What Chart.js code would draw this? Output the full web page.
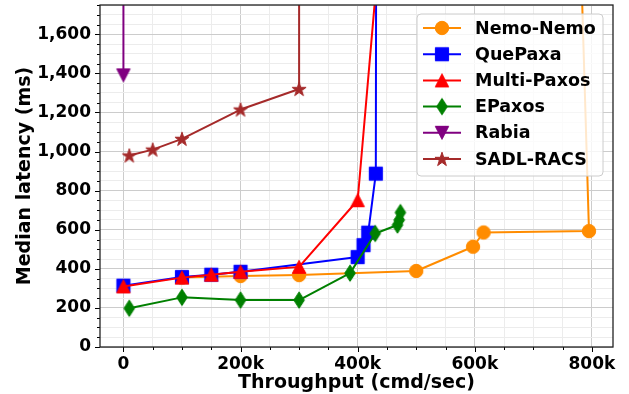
<!DOCTYPE html>
<html>
<head>
<meta charset="utf-8">
<script src="https://cdn.jsdelivr.net/npm/chart.js@4.4.1/dist/chart.umd.min.js"></script>
<style>
  html, body { margin: 0; padding: 0; background: #fff; }
</style>
</head>
<body>
<canvas id="chart" width="629" height="394"></canvas>
<script>
// series names in legend order
const seriesNames = ['Nemo-Nemo', 'QuePaxa', 'Multi-Paxos', 'EPaxos', 'Rabia', 'SADL-RACS'];

// throughput (cmd/sec) and median latency (ms)
const nemoX = [100000, 200000, 300000, 500000, 597000, 615000, 795000, 780000];
const nemoY = [355, 363, 368, 389, 513, 586, 593, 2100];

const quepaxaX = [0, 100000, 150000, 200000, 400000, 410000, 418000, 431000, 432000];
const quepaxaY = [314, 358, 370, 385, 460, 521, 585, 887, 3000];

const multiX = [0, 100000, 150000, 200000, 300000, 400000, 436000];
const multiY = [310, 355, 370, 385, 410, 751, 2000];

const epaxosX = [10000, 100000, 200000, 300000, 387000, 430000, 468000, 471000, 473000];
const epaxosY = [198, 254, 240, 240, 378, 581, 624, 650, 688];

const rabiaX = [0, 0];
const rabiaY = [1390, 3000];

const sadlX = [10000, 50000, 100000, 200000, 300000, 300000];
const sadlY = [980, 1010, 1065, 1215, 1320, 3000];

// tick labels
const xTickValues = [0, 200000, 400000, 600000, 800000];
const xTickLabels = ['0', '200k', '400k', '600k', '800k'];
const yTickValues = [0, 200, 400, 600, 800, 1000, 1200, 1400, 1600];
const yTickLabels = ['0', '200', '400', '600', '800', '1,000', '1,200', '1,400', '1,600'];

const FONT = 'DejaVu Sans';

// matplotlib-like markers drawn on small canvases
function makeMarker(shape, color) {
  const c = document.createElement('canvas');
  c.width = 20; c.height = 20;
  const g = c.getContext('2d');
  g.fillStyle = color; g.strokeStyle = color; g.lineWidth = 1; g.lineJoin = 'miter';
  g.beginPath();
  if (shape === 'circle') {
    g.arc(10, 10, 6.7, 0, Math.PI * 2);
  } else if (shape === 'square') {
    g.rect(3.4, 3.4, 13.2, 13.2);
  } else if (shape === 'triangleUp') {
    g.moveTo(10, 3.4); g.lineTo(16.7, 16.5); g.lineTo(3.3, 16.5); g.closePath();
  } else if (shape === 'triangleDown') {
    g.moveTo(10, 16.5); g.lineTo(16.7, 3.5); g.lineTo(3.3, 3.5); g.closePath();
  } else if (shape === 'diamond') {
    g.moveTo(10, 1.8); g.lineTo(15.3, 10); g.lineTo(10, 18.2); g.lineTo(4.7, 10); g.closePath();
  } else if (shape === 'star') {
    const R = 7.4, r = R * 0.382;
    for (let k = 0; k < 10; k++) {
      const rad = k % 2 === 0 ? R : r;
      const a = -Math.PI / 2 + k * Math.PI / 5;
      const px = 10 + rad * Math.cos(a), py = 10.6 + rad * Math.sin(a);
      if (k === 0) g.moveTo(px, py); else g.lineTo(px, py);
    }
    g.closePath();
  }
  g.fill(); g.stroke();
  return c;
}

const colors = ['#ff8c00', '#0000ff', '#ff0000', '#008000', '#800080', '#a52a2a'];
const shapes = ['circle', 'square', 'triangleUp', 'diamond', 'triangleDown', 'star'];
const xs = [nemoX, quepaxaX, multiX, epaxosX, rabiaX, sadlX];
const ys = [nemoY, quepaxaY, multiY, epaxosY, rabiaY, sadlY];
const markers = shapes.map((s, i) => makeMarker(s, colors[i]));

const datasets = seriesNames.map((name, i) => ({
  label: name,
  data: xs[i].map((x, j) => ({ x: x, y: ys[i][j] })),
  showLine: true,
  borderColor: colors[i],
  backgroundColor: colors[i],
  borderWidth: 2,
  borderJoinStyle: 'round',
  pointStyle: markers[i],
  pointRadius: 7,
  order: seriesNames.length - i
}));

function stepTicks(from, to, step) {
  const out = [];
  for (let v = from; v <= to + 1e-9; v += step) out.push({ value: v });
  return out;
}

const decor = {
  id: 'decor',
  afterDraw(chart) {
    const { ctx, chartArea: a, scales: { x, y } } = chart;
    ctx.save();
    // tick marks
    ctx.strokeStyle = '#000';
    ctx.lineWidth = 1;
    ctx.beginPath();
    x.ticks.forEach(t => {
      const px = Math.round(x.getPixelForValue(t.value)) + 0.5;
      const len = xTickValues.includes(t.value) ? 5 : 3;
      ctx.moveTo(px, a.bottom); ctx.lineTo(px, a.bottom + len);
    });
    y.ticks.forEach(t => {
      const py = Math.round(y.getPixelForValue(t.value)) + 0.5;
      const len = yTickValues.includes(t.value) ? 5 : 3;
      ctx.moveTo(a.left, py); ctx.lineTo(a.left - len, py);
    });
    ctx.stroke();
    // frame
    ctx.strokeStyle = '#222';
    ctx.lineWidth = 1.3;
    ctx.strokeRect(a.left, a.top, a.right - a.left, a.bottom - a.top);

    // legend
    const bx = 417, by = 14, bw = 186, bh = 162, rr = 4;
    ctx.beginPath();
    ctx.moveTo(bx + rr, by);
    ctx.arcTo(bx + bw, by, bx + bw, by + bh, rr);
    ctx.arcTo(bx + bw, by + bh, bx, by + bh, rr);
    ctx.arcTo(bx, by + bh, bx, by, rr);
    ctx.arcTo(bx, by, bx + bw, by, rr);
    ctx.closePath();
    ctx.fillStyle = 'rgba(255,255,255,0.8)';
    ctx.fill();
    ctx.strokeStyle = '#cccccc';
    ctx.lineWidth = 1;
    ctx.stroke();

    ctx.font = 'bold 17.5px "' + FONT + '"';
    ctx.textBaseline = 'middle';
    ctx.textAlign = 'left';
    seriesNames.forEach((name, i) => {
      const cy = 28 + i * 26.2;
      ctx.strokeStyle = colors[i];
      ctx.lineWidth = 2;
      ctx.beginPath();
      ctx.moveTo(423, cy); ctx.lineTo(461, cy);
      ctx.stroke();
      ctx.drawImage(markers[i], 442 - 10, cy - 10);
      ctx.fillStyle = '#000';
      ctx.fillText(name, 475, cy + 1);
    });
    ctx.restore();
  }
};

new Chart(document.getElementById('chart'), {
  type: 'scatter',
  data: { datasets: datasets },
  plugins: [decor],
  options: {
    responsive: false,
    animation: false,
    events: [],
    layout: { autoPadding: false, padding: { top: 5, right: 16, left: 0, bottom: 0 } },
    plugins: { legend: { display: false }, tooltip: { enabled: false } },
    scales: {
      x: {
        type: 'linear',
        min: -40000,
        max: 836000,
        afterFit: s => { s.height = 47; s.paddingLeft = 0; s.paddingRight = 0; },
        afterBuildTicks: s => { s.ticks = stepTicks(0, 800000, 50000); },
        grid: {
          drawTicks: false,
          color: c => (c.tick && xTickValues.includes(c.tick.value)) ? '#cccccc' : '#ececec'
        },
        border: { display: false },
        ticks: {
          autoSkip: false,
          maxRotation: 0,
          padding: 7,
          color: '#000',
          font: { family: FONT, size: 17, weight: 'bold' },
          callback: v => { const k = xTickValues.indexOf(v); return k >= 0 ? xTickLabels[k] : ''; }
        },
        title: {
          display: true,
          text: 'Throughput (cmd/sec)',
          color: '#000',
          font: { family: FONT, size: 19, weight: 'bold', lineHeight: 1.1 },
          padding: { top: 0, bottom: 0 }
        }
      },
      y: {
        type: 'linear',
        min: 0,
        max: 1750,
        afterFit: s => { s.width = 100; s.paddingTop = 0; s.paddingBottom = 0; },
        afterBuildTicks: s => { s.ticks = stepTicks(0, 1750, 50); },
        grid: {
          drawTicks: false,
          color: c => (c.tick && yTickValues.includes(c.tick.value)) ? '#cccccc' : '#ececec'
        },
        border: { display: false },
        ticks: {
          autoSkip: false,
          padding: 9,
          color: '#000',
          font: { family: FONT, size: 17, weight: 'bold' },
          callback: v => { const k = yTickValues.indexOf(v); return k >= 0 ? yTickLabels[k] : ''; }
        },
        title: {
          display: true,
          text: 'Median latency (ms)',
          color: '#000',
          font: { family: FONT, size: 19, weight: 'bold', lineHeight: 1.2 },
          padding: { top: 14, bottom: 0 }
        }
      }
    }
  }
});
</script>
</body>
</html>
